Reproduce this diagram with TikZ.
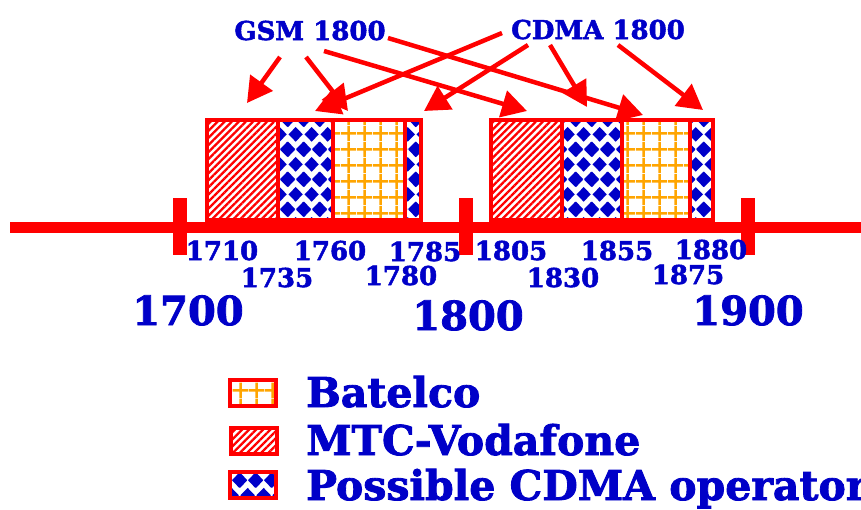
\documentclass[tikz,border=0pt]{standalone}
\usepackage{fontspec}
\setmainfont{DejaVu Serif}
\newfontfamily\heavyserif[FakeBold=2]{DejaVu Serif Bold}
\usetikzlibrary{arrows.meta, patterns, patterns.meta}

\definecolor{bandblue}{RGB}{0,0,200}
\definecolor{bandorange}{RGB}{255,165,0}

% one diamond of the CDMA checker
\newcommand{\slotdiamond}[2]{%
  \pgfpathmoveto{\pgfpoint{#1-7.5pt}{#2}}%
  \pgfpathlineto{\pgfpoint{#1}{#2+7.5pt}}%
  \pgfpathlineto{\pgfpoint{#1+7.5pt}{#2}}%
  \pgfpathlineto{\pgfpoint{#1}{#2-7.5pt}}%
  \pgfpathclose}
\pgfdeclarepatternformonly{slotdiamonds}{\pgfpointorigin}{\pgfpoint{16pt}{30pt}}{\pgfpoint{16pt}{30pt}}{%
  \slotdiamond{0pt}{0pt}\slotdiamond{16pt}{0pt}\slotdiamond{8pt}{15pt}%
  \slotdiamond{0pt}{30pt}\slotdiamond{16pt}{30pt}%
  \pgfusepath{fill}}

% square grid for the Batelco slots
\pgfdeclarepatternformonly{slotgrid}{\pgfpointorigin}{\pgfpoint{15.5pt}{16pt}}{\pgfpoint{15.5pt}{16pt}}{%
  \pgfsetlinewidth{2.6pt}%
  \pgfpathmoveto{\pgfpoint{7.75pt}{0pt}}\pgfpathlineto{\pgfpoint{7.75pt}{16pt}}%
  \pgfpathmoveto{\pgfpoint{0pt}{8pt}}\pgfpathlineto{\pgfpoint{15.5pt}{8pt}}%
  \pgfusepath{stroke}}

\begin{document}
\begin{tikzpicture}[x=1pt, y=-1pt,
    seg/.style={draw=red, line width=3.5pt, minimum height=100pt, inner sep=0pt},
    mtcfill/.style={pattern={Lines[angle=45,distance=5pt,line width=2.3pt]}, pattern color=red},
    cdmafill/.style={pattern=slotdiamonds, pattern color=bandblue},
    batfill/.style={pattern=slotgrid, pattern color=bandorange},
    feed/.style={red, line width=4.5pt, -{Triangle[length=25pt,width=27pt]}},
    freq/.style={text=bandblue, font=\heavyserif\fontsize{26}{26}\selectfont, anchor=base, inner sep=0pt},
    decade/.style={text=bandblue, font=\heavyserif\fontsize{40}{40}\selectfont, anchor=base, inner sep=0pt},
    keybox/.style={draw=red, line width=4pt, minimum width=46pt, minimum height=26pt, inner sep=0pt},
    keytext/.style={text=bandblue, font=\heavyserif\fontsize{41}{41}\selectfont, anchor=base west, inner sep=0pt}]

	% page window
	\useasboundingbox (0,0) rectangle (861,509);

	% the two 1800 bands, slot by slot
	\foreach \name/\xa/\xb/\kind in {mtcL/207/278/mtcfill, cdmaL/278/333/cdmafill, batL/333/405/batfill, cdmaLs/405/421/cdmafill,
	                                 mtcR/491/562/mtcfill, cdmaR/562/622/cdmafill, batR/622/690/batfill, cdmaRs/690/713/cdmafill}
		\node[seg, \kind, minimum width={\xb-\xa}] (\name) at ({(\xa+\xb)/2},170) {};

	% frequency axis with the 100 MHz ticks
	\draw[red, line width=11pt] (10,227) -- (861,227);
	\foreach \x in {180,466,748}
		\draw[red, line width=14pt] (\x,198) -- (\x,255);

	% slot edges
	\foreach \val/\x/\y in {1710/222/260, 1735/277/287, 1760/330/260, 1780/401/285, 1785/425/261,
	                        1805/511/260, 1830/563/287, 1855/617/260, 1875/688/284, 1880/711/259}
		\node[freq] (f\val) at (\x,\y) {\val};

	\node[decade] (d1700) at (188,325) {1700};
	\node[decade] (d1800) at (468,330) {1800};
	\node[decade] (d1900) at (748,325) {1900};

	% system labels and where they point
	\node[freq] (gsm) at (310,40) {GSM 1800};
	\node[freq] (cdma) at (598,39) {CDMA 1800};

	\coordinate (gA) at (280,57);  \coordinate (gB) at (306,57);
	\coordinate (gC) at (324,51);  \coordinate (gD) at (388,38);
	\coordinate (cA) at (502,33);  \coordinate (cB) at (528,45);
	\coordinate (cC) at (550,45);  \coordinate (cD) at (618,45);

	\coordinate (tmtcL) at (247,103);  \coordinate (tbatL) at (348,111);
	\coordinate (tmtcR) at (527,111);  \coordinate (tbatR) at (643,115);
	\coordinate (tcdmaL) at (315,111); \coordinate (tcdmaLs) at (424,111);
	\coordinate (tcdmaR) at (587,107); \coordinate (tcdmaRs) at (703,110);

	\foreach \from/\to in {gA/tmtcL, gB/tbatL, gC/tmtcR, gD/tbatR,
	                       cA/tcdmaL, cB/tcdmaLs, cC/tcdmaR, cD/tcdmaRs}
		\draw[feed] (\from) -- (\to);

	% legend
	\node[keybox, batfill] (kbat) at (253,393) {};
	\node[keybox, mtcfill] (kmtc) at (253.5,441) {};
	\node[keybox, cdmafill] (kcdma) at (253,485) {};
	\node[keytext] (lbat) at (306,407) {Batelco};
	\node[keytext] (lmtc) at (306,455) {MTC-Vodafone};
	\node[keytext] (lcdma) at (306,500) {Possible CDMA operator};

\end{tikzpicture}
\end{document}
